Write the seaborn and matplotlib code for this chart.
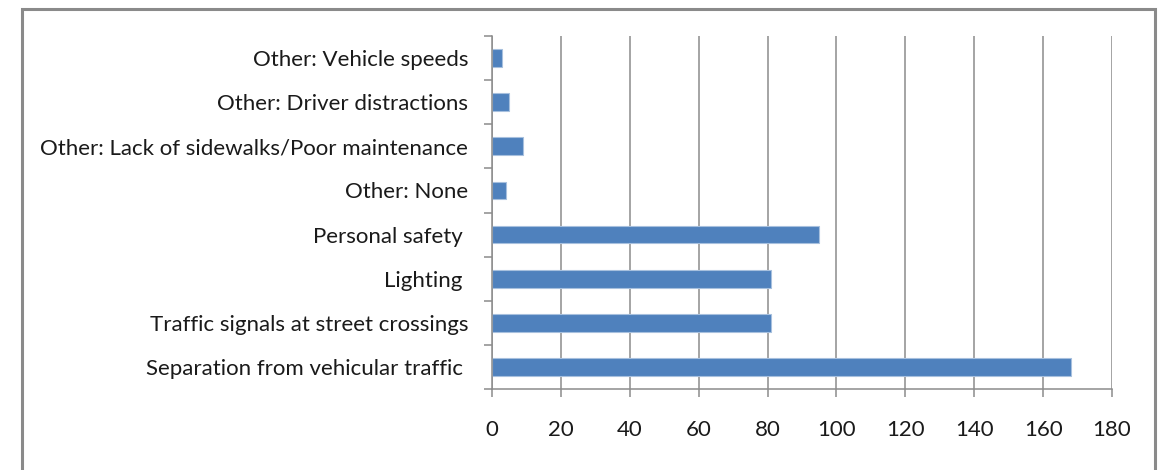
import matplotlib
matplotlib.use("Agg")
import matplotlib.pyplot as plt
from matplotlib.patches import Rectangle
from matplotlib.ticker import FixedLocator
import numpy as np
import pandas as pd
import seaborn as sns

# Survey responses: factors that matter for walking routes
categories = [
    "Other: Vehicle speeds",
    "Other: Driver distractions",
    "Other: Lack of sidewalks/Poor maintenance",
    "Other: None",
    "Personal safety ",
    "Lighting ",
    "Traffic signals at street crossings",
    "Separation from vehicular traffic ",
]
counts = [3, 5, 9, 4, 95, 81, 81, 168]
x_ticks = [0, 20, 40, 60, 80, 100, 120, 140, 160, 180]

df = pd.DataFrame({"factor": categories, "count": counts})

sns.set_style("white")
plt.rcParams["font.family"] = ["Lato", "DejaVu Sans"]

fig = plt.figure(figsize=(11.6, 4.7), dpi=100)
ax = fig.add_axes([0.4241, 0.1723, 0.5345, 0.7511])

sns.barplot(data=df, x="count", y="factor", order=categories, orient="h",
            color="#4F81BD", width=0.4, edgecolor="#A7C0DE", linewidth=0.8,
            saturation=1, ax=ax)

ax.set_xlim(0, 180)
ax.set_ylim(len(categories) - 0.5, -0.5)
ax.set_xticks(x_ticks)
ax.set_xlabel("")
ax.set_ylabel("")

grid_color = "#8C8C8C"
ax.xaxis.grid(True, color=grid_color, linewidth=1.1)
ax.yaxis.grid(False)
ax.set_axisbelow(True)

for side in ("top", "right"):
    ax.spines[side].set_visible(False)
for side in ("left", "bottom"):
    ax.spines[side].set_color(grid_color)
    ax.spines[side].set_linewidth(1.1)

# category boundary ticks on the category axis
ax.yaxis.set_minor_locator(FixedLocator(np.arange(-0.5, len(categories), 1.0)))
ax.tick_params(axis="y", which="minor", left=True, length=6, width=1.1, color=grid_color)
ax.tick_params(axis="y", which="major", left=False, length=0, pad=17,
               labelsize=16, labelcolor="#1A1A1A")
ax.tick_params(axis="x", which="major", bottom=True, length=5.5, width=1.1,
               color=grid_color, pad=17, labelsize=16, labelcolor="#1A1A1A")

# chart frame
fig.patches.append(Rectangle((22 / 1160, -0.05), (1155 - 22) / 1160, 1.05 - 9 / 470,
                             transform=fig.transFigure, fill=False,
                             edgecolor="#8A8A8A", linewidth=2.2))

fig.savefig("out.png", dpi=100, facecolor="white")
